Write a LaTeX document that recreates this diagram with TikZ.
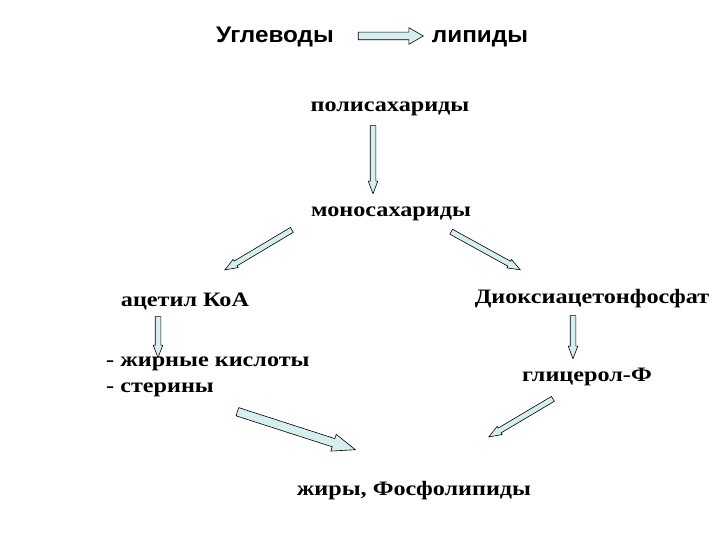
\documentclass[tikz,border=0pt]{standalone}
\usepackage{fontspec}
\setmainfont[FakeStretch=1.18]{Liberation Serif}
\newfontfamily\headfont[FakeStretch=1.08]{Liberation Sans}
\usetikzlibrary{shapes.arrows,calc}
\definecolor{arrowfill}{RGB}{214,238,238}
\tikzstyle{fat} = [draw, fill=arrowfill, line width=0.6pt, single arrow, inner xsep=0pt, inner ysep=2.5pt, minimum width=0pt, single arrow head extend=2pt, single arrow tip angle=42, single arrow head indent=0pt]
\tikzstyle{wide} = [fat, inner ysep=3.5pt, single arrow head extend=4.5pt, single arrow tip angle=60]
\tikzstyle{fatter} = [fat, inner ysep=4pt, single arrow head extend=4.5pt, single arrow tip angle=42]
\tikzstyle{head} = [font=\headfont\bfseries\fontsize{22.5}{27}\selectfont, inner sep=0pt, anchor=base]
\tikzstyle{item} = [font=\bfseries\fontsize{20.5}{26}\selectfont, inner sep=0pt, anchor=base]
% block arrow from #2 to #3
\newcommand{\blockarrow}[3][fat]{\path let \p1=(#2), \p2=(#3), \n1={atan2(\y2-\y1,\x2-\x1)}, \n2={veclen(\x2-\x1,\y2-\y1)} in node[#1, minimum height=\n2, rotate=\n1] at ($(\p1)!0.5!(\p2)$) {};}

\begin{document}
\begin{tikzpicture}[x=1pt, y=-1pt]
        \useasboundingbox (0,0) rectangle (720,540);
        \node[head] (carbs) at (275,43) {Углеводы};
        \node[head] (lipids) at (480,43) {липиды};
        \node[item] (poly) at (390,112) {полисахариды};
        \node[item] (mono) at (391,217) {моносахариды};
        \node[item] (acetyl) at (185,306) {ацетил КоА};
        \node[item] (dhap) at (592,303) {Диоксиацетонфосфат};
        \node[item, align=left, anchor=base west] (fatty) at (106,392) {- жирные кислоты\\- стерины};
        \node[item] (glycerol) at (587,381) {глицерол-Ф};
        \node[item] (fats) at (414,495) {жиры, Фосфолипиды};
        \blockarrow[wide]{[shift={(80,-7)}]carbs.base}{[shift={(-60,-7)}]lipids.base}
        \blockarrow{[shift={(-17,10)}]poly.base}{[shift={(-18,-27)}]mono.base}
        \blockarrow{[shift={(-96,11)}]mono.base}{[shift={(43,-38)}]acetyl.base}
        \blockarrow{[shift={(57,13)}]mono.base}{[shift={(-75,-35)}]dhap.base}
        \blockarrow{[shift={(-27,7)}]acetyl.base}{[shift={(52,-38)}]fatty.base west}
        \blockarrow{[shift={(-19,9)}]dhap.base}{[shift={(-14,-26)}]glycerol.base}
        \blockarrow[fatter]{[shift={(126,18)}]fatty.base west}{[shift={(-64,-47)}]fats.base}
        \blockarrow{[shift={(-31,16)}]glycerol.base}{[shift={(78,-60)}]fats.base}
    \end{tikzpicture}
\end{document}
